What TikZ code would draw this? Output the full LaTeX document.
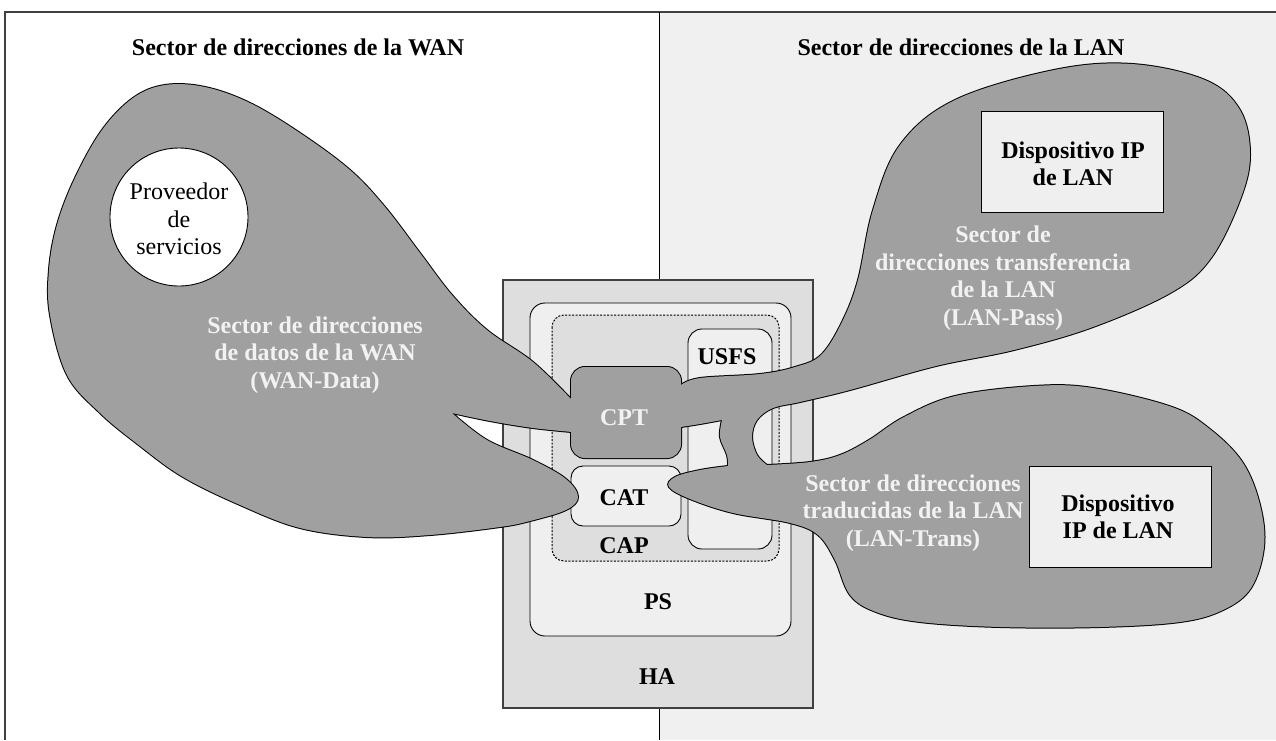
\documentclass[tikz,border=0pt]{standalone}
\usepackage{fontspec}
\setmainfont{Liberation Serif}
\definecolor{blobgray}{HTML}{A0A0A0}
\definecolor{hagray}{HTML}{DEDEDE}
\definecolor{pale}{HTML}{EFEFEF}
\definecolor{lanbg}{HTML}{F0F0F0}
\definecolor{frameline}{HTML}{404040}
\definecolor{wtext}{HTML}{F2F2F2}
\newcommand\wanshape{(600,432) -- (572,432) -- plot[smooth,tension=0.6] coordinates {(572,432) (533,428) (490,421) (452,413)}
 -- plot[smooth,tension=0.6] coordinates {(452,413) (487,440) (533,460) (566,479) (578,497) (566,510) (530,521) (500,527) (430,535) (367,537) (300,528) (240,505) (183,477) (140,446) (100,413) (67,375) (50,315) (49,270) (57,225) (75,178) (102,130) (133,98) (165,85) (205,87) (250,103) (300,133) (350,170) (385,207) (420,253) (452,295) (487,330) (533,362) (572,400)}
 -- (600,400) -- cycle}
\newcommand\lanshape{(660,385) -- (681,385) -- plot[smooth,tension=0.6] coordinates {(681,385) (700,378) (760,374) (795,367) (821,355) (842,322) (858,280) (873,210) (900,145) (955,100) (1054,70) (1132,64) (1205,80) (1240,110) (1250,155) (1240,200) (1211,258) (1172,292) (1093,327) (1014,350) (936,366) (850,390) (800,402) (773,408) (757,420) (752,437) (757,455) (767,465)}
 -- plot[smooth,tension=0.6] coordinates {(767,465) (810,462) (840,455) (869,440) (904,417) (955,396) (1034,386) (1093,388) (1172,407) (1211,430) (1243,463) (1260,505) (1264,547) (1251,588) (1223,610) (1180,622) (1100,627) (1000,627) (920,622) (876,612) (850,595) (835,560) (818,535) (790,523) (733,513) (690,499) (669,487) (675,477) (700,470) (728,466)}
 -- plot[smooth,tension=0.6] coordinates {(728,466) (727,455) (720,437) (722,420)}
 -- plot[smooth,tension=0.6] coordinates {(722,420) (700,424) (681,427)}
 -- (660,427) -- cycle}
\newcommand\cptshape{[rounded corners=14pt] (571,367) rectangle (681,458)}
\begin{document}
\begin{tikzpicture}[x=1pt,y=-1pt,
  lab/.style={font=\fontsize{24}{27.5}\selectfont\bfseries, align=center, inner sep=0pt},
  wlab/.style={lab, text=wtext},
  rtxt/.style={font=\fontsize{24}{27.5}\selectfont, align=center, inner sep=0pt},
  devbox/.style={draw=black, line width=0.9pt, fill=pale, inner sep=0pt},
  inbox/.style={draw=black, line width=0.9pt}]
\useasboundingbox (0,0) rectangle (1276,740);
\fill[white] (0,0) rectangle (1276,740);
\fill[lanbg] (659,12) rectangle (1276,740);
\draw[frameline, line width=1.6pt] (5,740) -- (5,12) -- (1276,12);
\draw[black, line width=0.9pt] (659,12) -- (659,740);
% HA / PS / CAP / USFS / CAT
\draw[frameline, line width=1.3pt, fill=hagray] (503,280) rectangle (813,708);
\draw[inbox, fill=pale, rounded corners=15pt] (530,303) rectangle (791,636);
\draw[black, line width=1pt, dash pattern=on 2pt off 1.5pt, fill=hagray, rounded corners=12pt] (552,315) rectangle (779,561);
\draw[inbox, fill=pale, rounded corners=14pt] (688,329) rectangle (772,549);
\draw[inbox, fill=pale, rounded corners=12pt] (571,466) rectangle (681,526);
% blobs united with CPT
\path[draw=black, line width=2pt] \wanshape;
\path[draw=black, line width=2pt] \lanshape;
\path[draw=black, line width=2pt] \cptshape;
\fill[blobgray] \wanshape;
\fill[blobgray] \lanshape;
\fill[blobgray] \cptshape;
% service provider
\node[circle, draw=black, line width=0.9pt, fill=white, minimum size=138pt, inner sep=0pt] (prov) at (179,217) {};
\node[rtxt] (provt) at (179,219) {Proveedor\\de\\servicios};
% devices
\node[devbox, minimum width=182pt, minimum height=101pt] (dev1) at (1072,161.5) {};
\node[lab] (dev1t) at (1073,164) {Dispositivo IP\\de LAN};
\node[devbox, minimum width=182pt, minimum height=101pt] (dev2) at (1120,516.5) {};
\node[lab] (dev2t) at (1118,517) {Dispositivo\\IP de LAN};
% titles
\node[lab] (twan) at (298,47) {Sector de direcciones de la WAN};
\node[lab] (tlan) at (961,47) {Sector de direcciones de la LAN};
% blob labels
\node[wlab] (wdata) at (315,355) {Sector de direcciones\\de datos de la WAN\\(WAN-Data)};
\node[wlab] (lpass) at (1003,278) {Sector de\\direcciones transferencia\\de la LAN\\(LAN-Pass)};
\node[wlab] (ltrans) at (913,513) {Sector de direcciones\\traducidas de la LAN\\(LAN-Trans)};
% box labels
\node[wlab] (cpt) at (624,418) {CPT};
\node[lab] (cat) at (624,498) {CAT};
\node[lab] (cap) at (624,546) {CAP};
\node[lab] (usfs) at (727,357) {USFS};
\node[lab] (ps) at (658,602) {PS};
\node[lab] (ha) at (657,677) {HA};
\end{tikzpicture}
\end{document}
